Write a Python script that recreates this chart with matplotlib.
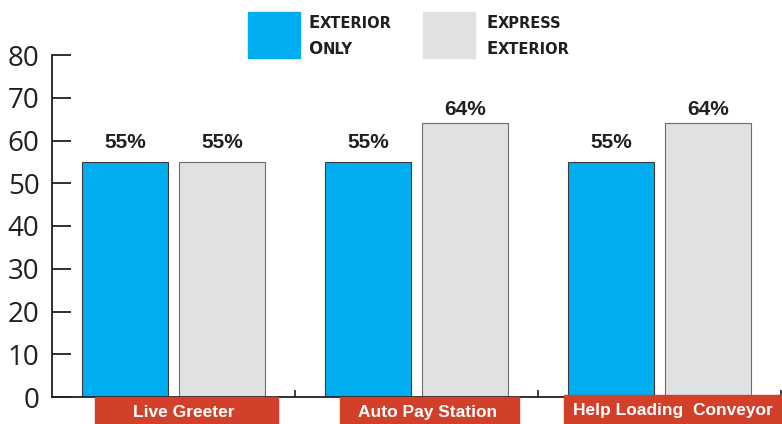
import numpy as np
import matplotlib
matplotlib.use('Agg')
import matplotlib.pyplot as plt
from matplotlib.patches import Rectangle
from matplotlib.offsetbox import TextArea, HPacker, VPacker, AnchoredOffsetbox
import matplotlib.transforms as mtransforms

#############################################
## Data
#############################################
categories = ['Live Greeter', 'Auto Pay Station', 'Help Loading  Conveyor']
exterior_only = [55, 55, 55]
express_exterior = [55, 64, 64]
yticks = [0, 10, 20, 30, 40, 50, 60, 70, 80]

blue = '#00aeef'
grey = '#e0e1e3'
red = '#d2402a'
ink = '#231f20'

#############################################
## Figure
#############################################
fig = plt.figure(figsize=(7.82, 4.24), dpi=100)
ax = fig.add_axes([52/782, 27/424, 729/782, 342/424])

x = np.arange(len(categories)) + 0.5
w = 0.355
b1 = ax.bar(x - 0.2, exterior_only, w, color=blue, edgecolor='#3a3a3a', lw=0.8)
b2 = ax.bar(x + 0.2, express_exterior, w, color=grey, edgecolor='#6d6d6d', lw=0.8)

# value labels (gap above bar in points, as in the original layout)
gaps = [[10, 10, 10], [10, 5.8, 5.8]]
for bars, vals, gp in [(b1, exterior_only, gaps[0]), (b2, express_exterior, gaps[1])]:
    for r, v, g in zip(bars, vals, gp):
        ax.annotate(f'{v}%', xy=(r.get_x() + r.get_width()/2, v), xytext=(0, g),
                    textcoords='offset points', ha='center', va='baseline',
                    fontsize=15, fontweight='bold', color=ink,
                    family=['Liberation Sans', 'DejaVu Sans'])

# red category boxes under the axis
trans = mtransforms.blended_transform_factory(ax.transData, ax.transAxes)
box_left = [0.177, 1.185, 2.107]
box_right = [0.930, 1.922, 3.02]
box_top = [0.0, 0.0, 0.006]
for i, cat in enumerate(categories):
    ax.add_patch(Rectangle((box_left[i], box_top[i] - 0.12), box_right[i] - box_left[i], 0.12,
                           transform=trans, color=red, clip_on=False, zorder=3))
    ax.text((box_left[i] + box_right[i]) / 2 - 0.01, box_top[i] - 0.045, cat, transform=trans,
            ha='center', va='center', color='white', fontsize=12.5, fontweight='bold',
            family=['Liberation Sans', 'DejaVu Sans'], zorder=4)

# axes styling
ax.set_xlim(0, 3)
ax.set_ylim(0, 80)
ax.set_yticks(yticks)
ax.set_xticks([1, 2, 3])
ax.set_xticklabels([])
for s in ['top', 'right']:
    ax.spines[s].set_visible(False)
for s in ['left', 'bottom']:
    ax.spines[s].set_color(ink)
    ax.spines[s].set_linewidth(1.3)
ax.tick_params(axis='y', direction='in', length=14, width=1.3, color=ink, pad=9,
               labelsize=20, labelcolor=ink)
ax.tick_params(axis='x', direction='in', length=5, width=1.2, color=ink)
for lab in ax.get_yticklabels():
    lab.set_family(['Open Sans', 'DejaVu Sans'])

# legend with small caps look
def smallcaps(word):
    return [TextArea(word[0], textprops=dict(fontsize=12, fontweight='bold', color=ink,
                                              family=['DejaVu Sans'])),
            TextArea(word[1:], textprops=dict(fontsize=10.5, fontweight='bold', color=ink,
                                               family=['DejaVu Sans']))]

def legend_text(lines, xy):
    rows = [HPacker(children=smallcaps(l), align='baseline', pad=0, sep=0) for l in lines]
    box = VPacker(children=rows, align='left', pad=0, sep=6)
    ab = AnchoredOffsetbox(loc='upper left', child=box, pad=0, frameon=False,
                           bbox_to_anchor=xy, bbox_transform=fig.transFigure, borderpad=0)
    fig.add_artist(ab)

fig.patches.append(Rectangle((248/782, 1 - 58/424), 52/782, 46/424, transform=fig.transFigure,
                             color=blue, figure=fig))
fig.patches.append(Rectangle((423/782, 1 - 58/424), 52/782, 46/424, transform=fig.transFigure,
                             color=grey, figure=fig))
legend_text(['EXTERIOR', 'ONLY'], (308/782, 1 - 14/424))
legend_text(['EXPRESS', 'EXTERIOR'], (486/782, 1 - 14/424))

fig.savefig('out.png', dpi=100)
